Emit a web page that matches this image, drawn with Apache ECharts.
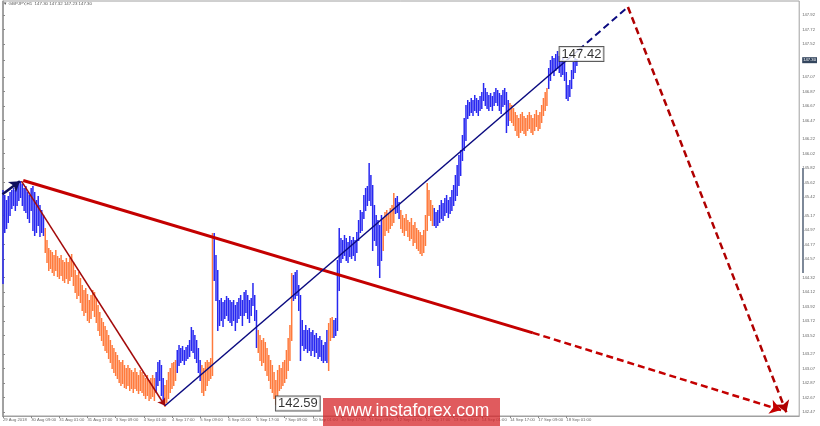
<!DOCTYPE html>
<html><head><meta charset="utf-8">
<script src="https://cdn.jsdelivr.net/npm/echarts@6/dist/echarts.min.js"></script>
<style>html,body{margin:0;padding:0;background:#fff}#c{width:820px;height:426px}</style>
</head><body><div id="c"></div>
<script>
// ---- data ----
const symbolTitle = '▼ GBPJPY,H1  147.30 147.32 147.23 147.30';
const tickBars = [0,16,32,48,64,80,96,112,128,144,160,176,192,208,224,240,256,272,288,304,320];
const tickLabels = ['29 Aug 2018','30 Aug 09:00','31 Aug 01:00','31 Aug 17:00','3 Sep 09:00','4 Sep 01:00','4 Sep 17:00','5 Sep 09:00','6 Sep 01:00','6 Sep 17:00','7 Sep 09:00','10 Sep 01:00','10 Sep 17:00','11 Sep 09:00','12 Sep 01:00','12 Sep 17:00','13 Sep 09:00','14 Sep 01:00','14 Sep 17:00','17 Sep 09:00','18 Sep 01:00'];
const priceTicks = [147.92,147.72,147.52,147.30,147.07,146.87,146.67,146.47,146.22,146.02,145.82,145.62,145.42,145.17,144.97,144.77,144.57,144.32,144.12,143.92,143.72,143.52,143.27,143.07,142.87,142.67,142.47];
const lastPrice = 147.30;

const highs = [
145.52,145.45,145.38,145.44,145.49,145.52,145.55,145.52,145.57,145.62,
145.64,145.60,145.55,145.57,145.49,145.45,145.55,145.57,145.49,145.38,
145.44,145.31,145.25,145.18,145.00,144.83,144.73,144.70,144.67,144.63,
144.70,144.61,144.59,144.63,144.56,144.53,144.59,144.53,144.59,144.64,
144.53,144.42,144.35,144.39,144.31,144.22,144.15,144.17,144.09,144.01,
144.08,144.15,144.12,144.04,143.94,143.85,143.76,143.71,143.65,143.60,
143.53,143.46,143.39,143.35,143.30,143.26,143.19,143.16,143.19,143.12,
143.08,143.12,143.08,143.05,143.02,143.08,143.02,142.98,143.05,143.02,
142.98,142.94,142.98,142.91,142.94,142.98,142.94,143.02,143.16,143.19,
143.12,142.94,142.84,142.91,143.02,143.08,143.15,143.16,143.19,143.32,
143.39,143.35,143.38,143.32,143.37,143.39,143.46,143.64,143.60,143.53,
143.46,143.35,143.19,143.12,143.08,143.16,143.19,143.16,143.22,144.93,
144.93,144.63,144.42,144.01,144.04,143.98,144.01,144.07,144.04,144.01,
143.98,144.01,143.94,143.98,144.04,144.08,144.01,144.12,144.15,144.08,
144.01,144.04,144.24,144.08,143.87,143.60,143.53,143.46,143.49,143.44,
143.35,143.26,143.19,143.12,143.02,142.91,143.05,143.12,143.08,143.16,
143.19,143.32,143.49,143.67,144.38,144.35,144.39,144.42,144.22,144.08,
143.74,143.60,143.67,143.60,143.63,143.57,143.60,143.53,143.56,143.49,
143.52,143.46,143.39,143.44,143.60,143.70,143.76,143.78,143.74,143.76,
144.56,145.00,144.86,144.83,144.90,144.86,144.81,144.89,144.83,144.88,
144.83,144.94,145.11,145.25,145.22,145.45,145.55,145.57,145.89,145.73,
145.59,145.31,145.18,145.11,145.04,145.18,145.14,145.22,145.25,145.19,
145.27,145.31,145.48,145.41,145.44,145.35,145.25,145.18,145.14,145.19,
145.11,145.08,145.14,145.04,145.08,145.00,144.97,144.94,144.90,144.97,
145.18,145.62,145.52,145.38,145.31,145.27,145.22,145.25,145.31,145.38,
145.34,145.41,145.45,145.38,145.42,145.52,145.59,145.73,145.86,146.00,
146.07,146.27,146.51,146.69,146.75,146.73,146.78,146.75,146.82,146.78,
146.75,146.81,146.86,146.99,146.92,146.86,146.82,146.85,146.81,146.86,
146.92,146.89,146.85,146.82,146.89,146.92,146.86,146.75,146.71,146.69,
146.64,146.59,146.55,146.51,146.56,146.59,146.53,146.51,146.55,146.59,
146.55,146.51,146.56,146.62,146.55,146.59,146.69,146.78,146.86,146.92,
147.19,147.30,147.36,147.33,147.38,147.42,147.36,147.30,147.33,147.28,
147.14,146.96,147.03,147.17,147.28,147.33,147.32];

const lows = [
144.24,144.94,145.00,145.08,145.18,145.27,145.31,145.25,145.31,145.38,
145.42,145.31,145.25,145.22,145.14,145.08,145.25,144.97,144.90,144.94,
145.04,144.89,144.94,144.90,144.67,144.53,144.42,144.45,144.39,144.35,
144.42,144.34,144.31,144.35,144.28,144.26,144.31,144.24,144.28,144.34,
144.22,144.12,144.04,144.08,143.98,143.87,143.80,143.85,143.74,143.71,
143.76,143.87,143.79,143.71,143.60,143.53,143.46,143.39,143.32,143.30,
143.22,143.16,143.08,143.02,142.98,142.94,142.89,142.84,142.87,142.82,
142.80,142.84,142.78,142.80,142.75,142.80,142.78,142.74,142.78,142.75,
142.71,142.67,142.71,142.64,142.67,142.69,142.64,142.75,142.84,142.91,
142.71,142.64,142.56,142.61,142.67,142.75,142.80,142.84,142.91,143.02,
143.12,143.16,143.19,143.13,143.19,143.22,143.24,143.32,143.30,143.22,
143.16,143.02,142.91,142.75,142.71,142.78,142.84,142.91,142.94,142.98,
144.28,144.01,143.60,143.67,143.74,143.65,143.76,143.80,143.74,143.71,
143.67,143.74,143.60,143.71,143.76,143.80,143.67,143.80,143.85,143.76,
143.71,143.80,143.94,143.74,143.37,143.30,143.19,143.12,143.16,143.05,
142.98,142.91,142.80,142.75,142.67,142.59,142.71,142.78,142.80,142.84,
142.89,142.94,143.05,143.19,143.46,144.01,144.04,144.08,143.87,143.19,
143.39,143.32,143.35,143.30,143.32,143.26,143.32,143.24,143.30,143.22,
143.24,143.19,143.16,143.19,143.16,143.05,143.46,143.50,143.50,143.53,
143.60,144.15,144.53,144.59,144.63,144.56,144.53,144.61,144.59,144.63,
144.56,144.67,144.83,144.94,144.97,145.14,145.25,145.31,145.38,145.31,
144.70,144.83,144.77,144.49,144.33,144.56,144.70,144.90,144.97,144.94,
145.00,145.04,145.08,145.20,145.22,145.14,145.00,144.94,144.90,144.97,
144.89,144.83,144.86,144.77,144.81,144.73,144.70,144.66,144.63,144.67,
144.77,144.97,145.18,145.11,145.04,145.04,145.01,145.04,145.08,145.14,
145.11,145.18,145.22,145.15,145.20,145.25,145.31,145.38,145.45,145.59,
145.73,145.93,146.07,146.21,146.51,146.55,146.59,146.55,146.62,146.59,
146.55,146.62,146.64,146.75,146.69,146.64,146.62,146.67,146.62,146.69,
146.73,146.69,146.62,146.58,146.67,146.70,146.32,146.41,146.48,146.45,
146.41,146.34,146.27,146.25,146.32,146.34,146.30,146.27,146.34,146.37,
146.32,146.29,146.34,146.40,146.34,146.37,146.45,146.55,146.62,146.69,
146.92,147.03,147.14,147.10,147.17,147.19,147.14,147.08,147.11,147.03,
146.78,146.75,146.81,146.92,147.06,147.14,147.23];

// first bar index of each wave colour segment (alternating blue / orange, starting blue)
const segmentStarts = [0,24,87,92,99,113,120,145,165,185,188,216,223,226,245,288,310];

// annotated extremes [bar, price]
const waveNotes = [[315,147.42],[155,142.59]];

// wave / channel lines [bar, price]
const prevWaveEnd = [[-0.3,145.46],[9.6,145.64]];
const waveA = [[10.5,145.64],[92,142.56]];
const waveB = [[92,142.56],[327,147.44]];
const waveBProj = [[327,147.44],[355,148.03]];
const channel = [[11.5,145.65],[301,143.56]];
const channelProj = [[301,143.56],[442,142.50]];
const waveCProj = [[355,148.03],[445,142.47]];

// ---- chart ----
const BLUE = '#2828f0', ORANGE = '#ff7a3c';
const barData = highs.map((h, i) => {
  let seg = 0;
  for (let s = 0; s < segmentStarts.length; s++) if (i >= segmentStarts[s]) seg = s;
  return [i, h, lows[i], seg % 2];
});

function renderBar(params, api) {
  const i = api.value(0);
  const top = api.coord([i, api.value(1)]);
  const bot = api.coord([i, api.value(2)]);
  const x = top[0];
  return { type: 'line', shape: { x1: x, y1: Math.round(top[1]), x2: x, y2: Math.round(bot[1]) + 1 },
    style: { stroke: api.value(3) ? ORANGE : BLUE, lineWidth: 1.5 } };
}

function seg(pts, color, width, dashed, arrow, arrowSize) {
  return [
    { coord: pts[0], symbol: 'none', lineStyle: { color: color, width: width, type: dashed ? [7, 4] : 'solid' } },
    { coord: pts[1], symbol: arrow ? 'arrow' : 'none', symbolSize: arrowSize || 8 }
  ];
}

const F = '"Liberation Sans", Arial, sans-serif';
const chart = echarts.init(document.getElementById('c'), null, { renderer: 'canvas' });
chart.setOption({
  animation: false,
  backgroundColor: '#ffffff',
  title: { text: symbolTitle, left: 3, top: 2, padding: 0,
    textStyle: { fontSize: 4.4, fontWeight: 'normal', color: '#555', fontFamily: F } },
  grid: { left: 1, right: 17, top: 1, bottom: 10, show: true, borderColor: '#a0a0a0', borderWidth: 1 },
  xAxis: {
    type: 'value', min: -0.3, max: 452.3,
    splitLine: { show: false },
    axisLine: { lineStyle: { color: '#a0a0a0' } },
    axisTick: { customValues: tickBars, length: 2, lineStyle: { color: '#888' } },
    axisLabel: { customValues: tickBars, align: 'left', margin: 2, fontSize: 4.2, color: '#666', fontFamily: F,
      formatter: v => tickLabels[tickBars.indexOf(v)] || '' }
  },
  yAxis: {
    type: 'value', position: 'right', min: 142.419, max: 148.112,
    splitLine: { show: false },
    axisLine: { show: true, lineStyle: { color: '#a0a0a0' } },
    axisTick: { show: true, customValues: priceTicks, length: 2, lineStyle: { color: '#888' } },
    axisLabel: { customValues: priceTicks, margin: 3, fontSize: 4.2, color: '#666', fontFamily: F,
      formatter: v => Math.abs(v - lastPrice) < 1e-6 ? '{cur|' + v.toFixed(2) + '}' : v.toFixed(2),
      rich: { cur: { backgroundColor: '#34465e', color: '#fff', fontSize: 4.2, padding: [1, 1], fontFamily: F } } }
  },
  series: [
    { type: 'custom', name: 'bars', renderItem: renderBar, data: barData,
      encode: { x: 0, y: [1, 2] }, clip: true, z: 2, silent: true },
    { type: 'scatter', name: 'notes', symbolSize: 0, z: 5, silent: true,
      data: [
        { value: waveNotes[0], label: { offset: [24, 2.5] } },
        { value: waveNotes[1], label: { offset: [22, 0] } }
      ],
      label: { show: true, position: 'inside', formatter: p => p.value[1].toFixed(2),
        fontSize: 13, color: '#000', fontFamily: F, backgroundColor: '#fff',
        borderColor: '#333', borderWidth: 1, padding: [1, 2, 0, 2] },
      markLine: {
        silent: true, animation: false, label: { show: false }, symbolSize: 8,
        data: [
          seg(channel, '#c40000', 3, false, false),
          seg(channelProj, '#c40000', 2.5, true, true, 11),
          seg(waveCProj, '#b00000', 2.5, true, true, 11),
          seg(waveA, '#a30a0a', 1.5, false, true, 7),
          seg(waveB, '#0a0a80', 1.5, false, false),
          seg(waveBProj, '#0a0a80', 2, true, false),
          seg(prevWaveEnd, '#10105e', 2.5, false, true, 10)
        ]
      }
    }
  ],
  graphic: [
    { type: 'line', shape: { x1: 803, y1: 168, x2: 803, y2: 273 }, style: { stroke: '#7d8898', lineWidth: 2 }, z: 10, silent: true },
    { type: 'rect', shape: { x: 323, y: 398, width: 177, height: 28 }, style: { fill: 'rgba(214,40,44,0.76)' }, z: 20, silent: true },
    { type: 'text', x: 411.5, y: 411.5, style: { text: 'www.instaforex.com', fill: '#fff', font: '17.5px ' + F,
      textAlign: 'center', textVerticalAlign: 'middle' }, z: 21, silent: true }
  ]
});
</script></body></html>
